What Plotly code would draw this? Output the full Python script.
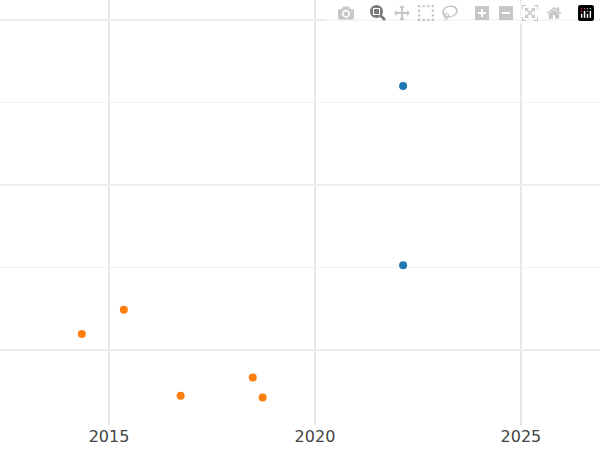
import plotly.graph_objects as go

blue_x = [2022.14, 2022.14]
blue_y = [1.601, 0.515]
orange_x = [2014.34, 2015.36, 2016.74, 2018.49, 2018.73]
orange_y = [0.098, 0.245, -0.276, -0.166, -0.288]

fig = go.Figure()
fig.add_trace(go.Scatter(x=blue_x, y=blue_y, mode="markers", marker=dict(color="#1f77b4", size=8)))
fig.add_trace(go.Scatter(x=orange_x, y=orange_y, mode="markers", marker=dict(color="#ff7f0e", size=8)))
fig.update_layout(
    width=600, height=450, showlegend=False,
    margin=dict(l=0, r=0, t=0, b=25),
    plot_bgcolor="white", paper_bgcolor="white",
    font=dict(family="DejaVu Sans", size=16, color="#444"),
    xaxis=dict(range=[2012.354, 2026.92], dtick=5, showgrid=True, gridcolor="#e8e8e8",
               gridwidth=2, zeroline=False, ticks="", showline=False),
    yaxis=dict(range=[-0.454, 2.123], dtick=1, showgrid=True, gridcolor="#ececec",
               gridwidth=1.5, showticklabels=False, zeroline=False,
               minor=dict(dtick=0.5, showgrid=True, gridcolor="#f2f2f2", gridwidth=1)),
)
fig.write_html("out.html", post_script="document.body.style.margin='0';document.body.style.padding='0';")
